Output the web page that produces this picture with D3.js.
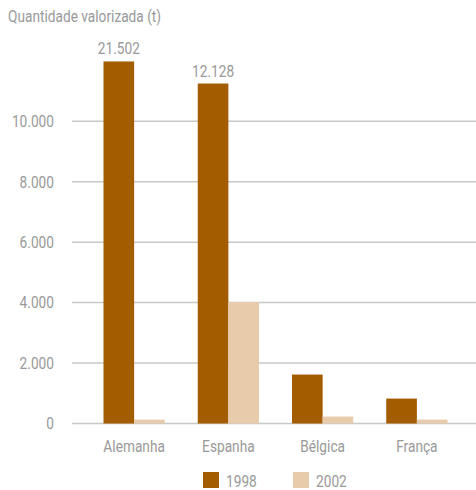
<!DOCTYPE html>
<html>
<head>
<meta charset="utf-8">
<script src="https://cdn.jsdelivr.net/npm/d3@7"></script>
<style>
  html, body { margin: 0; padding: 0; background: #fff; }
  svg { display: block; }
  text { font-family: "Roboto", "Liberation Sans", sans-serif; fill: #999; }
</style>
</head>
<body>
<svg id="chart" width="476" height="490"></svg>
<script>
// ---- data ----
const categories = ["Alemanha", "Espanha", "Bélgica", "França"];
const seriesNames = ["1998", "2002"];
// actual values (t)
const values1998 = [21502, 12128, 1620, 825];
const values2002 = [130, 4020, 230, 130];
// heights drawn on the (truncated) axis for the 1998 bars that exceed the scale
const drawn1998 = [11980, 11250, 1620, 825];
// labels shown above truncated bars
const showLabel1998 = [true, true, false, false];
const yTicks = [0, 2000, 4000, 6000, 8000, 10000];
const colors = ["#A35C00", "#E8CBAB"];
const title = "Quantidade valorizada (t)";

// ---- layout ----
const svg = d3.select("#chart");
const gridLeft = 72, gridRight = 476;
const FS = 16.3, SX = 0.84; // condensed look

const locale = d3.formatLocale({ decimal: ",", thousands: ".", grouping: [3], currency: ["", ""] });
const fmt = locale.format(",d");

const x = d3.scaleBand().domain(categories).range([87, 464]).paddingInner(0.35).paddingOuter(0.175);
const xs = d3.scaleBand().domain(seriesNames).range([0, x.bandwidth()]);
const y = d3.scaleLinear().domain([0, 10000]).range([423.5, 121.3]);

function label(sel, fx, fy) {
  return sel.attr("transform", (d, i) => `translate(${fx(d, i)},${fy(d, i)}) scale(${SX},1)`)
    .attr("font-size", FS);
}

// title
label(svg.append("text").datum(0), () => 8, () => 22).text(title);

// gridlines
svg.append("g").selectAll("line").data(yTicks).join("line")
  .attr("x1", gridLeft).attr("x2", gridRight)
  .attr("y1", d => y(d)).attr("y2", d => y(d))
  .attr("stroke", "#c8c8c8").attr("stroke-width", 1.5);

// y tick labels
label(svg.append("g").selectAll("text").data(yTicks).join("text"), () => 54, d => y(d))
  .attr("dy", "0.36em").attr("text-anchor", "end")
  .text(d => fmt(d));

// bars
const rows = categories.map((c, i) => ({ c, i }));
const g = svg.append("g");
g.selectAll("rect.b98").data(rows).join("rect")
  .attr("x", d => x(d.c) + xs("1998"))
  .attr("width", xs.bandwidth())
  .attr("y", d => y(drawn1998[d.i]))
  .attr("height", d => y(0) - y(drawn1998[d.i]))
  .attr("fill", colors[0]);
g.selectAll("rect.b02").data(rows).join("rect")
  .attr("x", d => x(d.c) + xs("2002"))
  .attr("width", xs.bandwidth())
  .attr("y", d => y(values2002[d.i]))
  .attr("height", d => y(0) - y(values2002[d.i]))
  .attr("fill", colors[1]);

// value labels for truncated bars
label(g.selectAll("text.v").data(rows.filter(d => showLabel1998[d.i])).join("text"),
    d => x(d.c) + xs("1998") + xs.bandwidth() / 2, d => y(drawn1998[d.i]) - 7)
  .attr("text-anchor", "middle")
  .text(d => fmt(values1998[d.i]));

// category labels
label(svg.append("g").selectAll("text").data(categories).join("text"),
    d => x(d) + x.bandwidth() / 2, () => 452)
  .attr("text-anchor", "middle")
  .text(d => d);

// legend
const legX = [203, 293];
const leg = svg.append("g").selectAll("g").data(seriesNames).join("g")
  .attr("transform", (d, i) => `translate(${legX[i]},472)`);
leg.append("rect").attr("width", 16).attr("height", 16).attr("fill", (d, i) => colors[i]);
label(leg.append("text"), () => 23, () => 15).text(d => d);
</script>
</body>
</html>
